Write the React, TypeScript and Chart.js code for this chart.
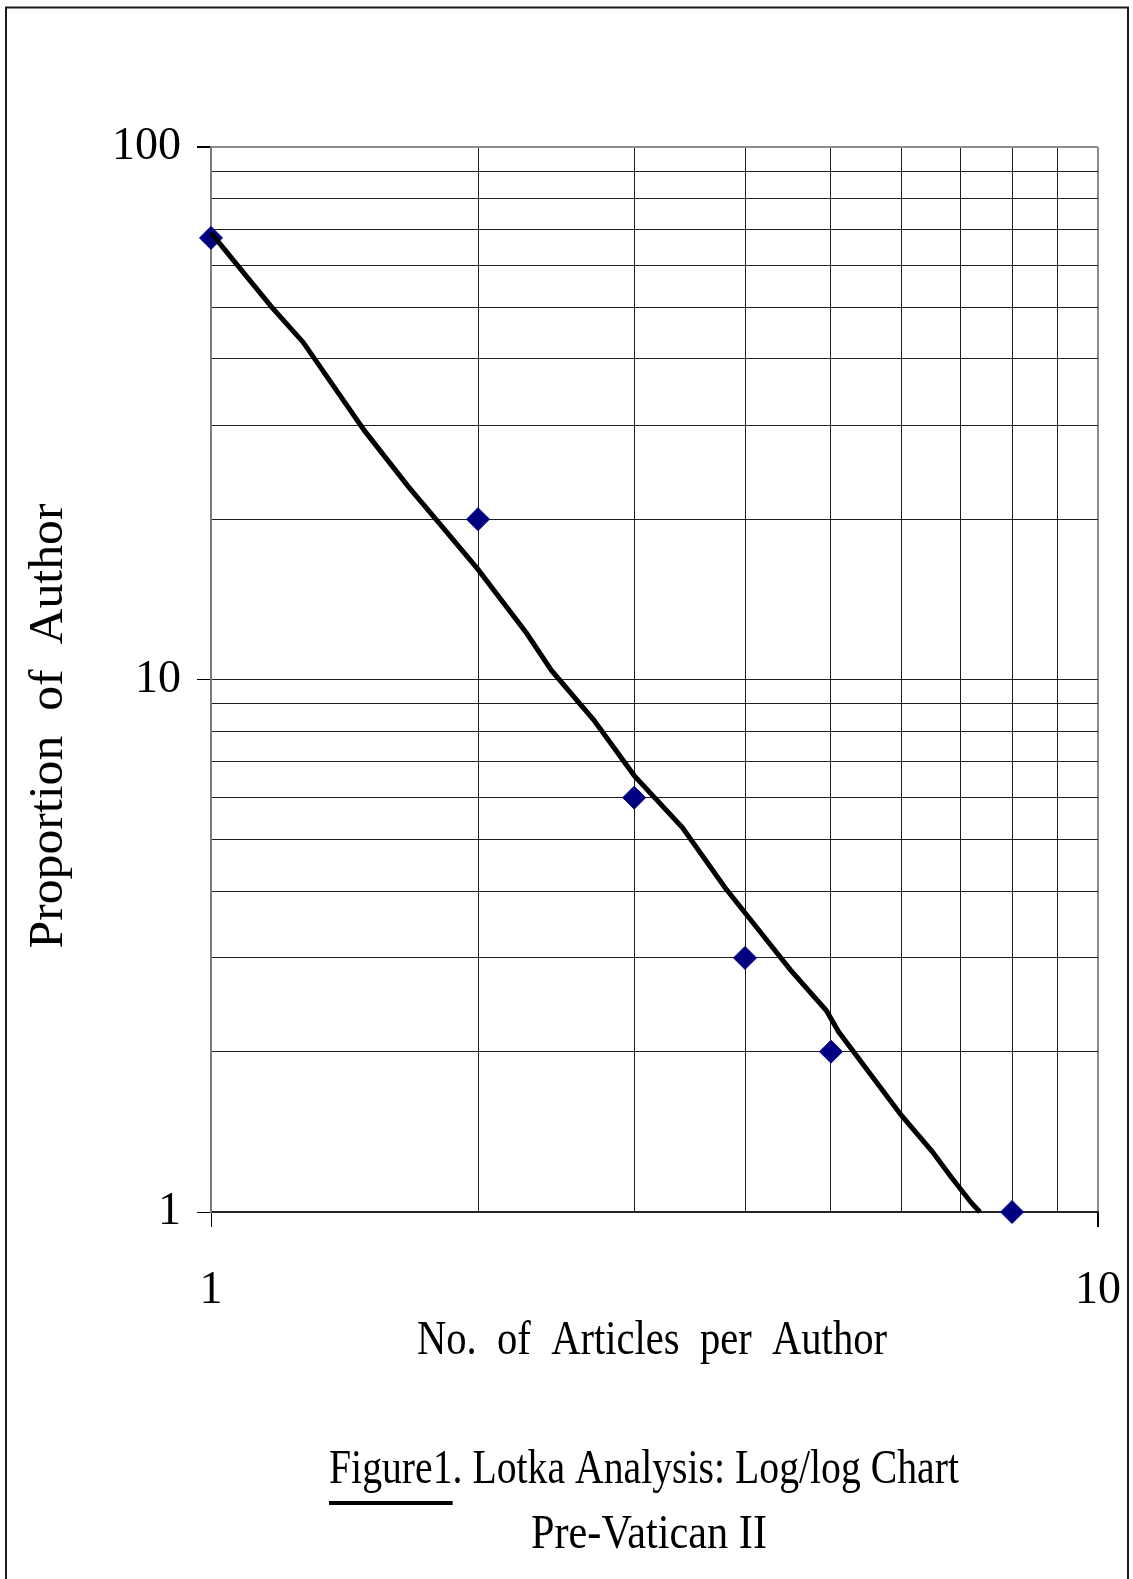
import React, { useEffect, useRef } from "react";
import { Chart, registerables } from "chart.js";

Chart.register(...registerables);

// ---- data ----
const articlesPerAuthor = [1, 2, 3, 4, 5, 8];
const proportionOfAuthors = [67.5, 20, 6, 3, 2, 1];

const fitArticles = [1, 1.17, 1.27, 1.49, 1.67, 1.83, 2, 2.27, 2.42, 2.7, 3, 3.4, 3.8, 4.13, 4.5, 4.94, 5.1, 5.66, 6, 6.5, 6.84, 7.2, 7.36];
const fitProportion = [69, 50.1, 43.0, 29.3, 23.0, 19.2, 16.1, 12.2, 10.4, 8.4, 6.6, 5.27, 4.06, 3.41, 2.85, 2.39, 2.18, 1.73, 1.52, 1.3, 1.16, 1.04, 1.0];

const xGridValues = [1, 2, 3, 4, 5, 6, 7, 8, 9, 10];
const yGridValues = [1, 2, 3, 4, 5, 6, 7, 8, 9, 10, 20, 30, 40, 50, 60, 70, 80, 90, 100];
const xTickLabels = [1, 10];
const yTickLabels = [1, 10, 100];

const titleLine1Underlined = "Figure1";
const titleLine1Rest = ". Lotka Analysis: Log/log Chart";
const titleLine2 = "Pre-Vatican II";
const xAxisTitle = "No.  of  Articles  per  Author";
const yAxisTitle = "Proportion  of  Author";

const SERIF = '"Liberation Serif", "Times New Roman", serif';

const near = (v: number, list: number[]) => list.some((t) => Math.abs(v - t) < 1e-6);

function drawFitted(
  ctx: CanvasRenderingContext2D,
  text: string,
  cx: number,
  baseline: number,
  width: number,
  rotate = false
) {
  ctx.save();
  ctx.font = `48px ${SERIF}`;
  const w = ctx.measureText(text).width;
  const sx = width / w;
  ctx.translate(cx, baseline);
  if (rotate) ctx.rotate(-Math.PI / 2);
  ctx.scale(sx, 1);
  ctx.textAlign = "center";
  ctx.textBaseline = "alphabetic";
  ctx.fillStyle = "#000";
  ctx.fillText(text, 0, 0);
  ctx.restore();
}

const figureTextPlugin = {
  id: "figureText",
  afterDraw(chart: any) {
    const ctx: CanvasRenderingContext2D = chart.ctx;
    ctx.save();
    // outer frame
    ctx.strokeStyle = "#1a1a1a";
    ctx.lineWidth = 2;
    ctx.beginPath();
    ctx.moveTo(6, 1700);
    ctx.lineTo(6, 7.5);
    ctx.lineTo(1128, 7.5);
    ctx.lineTo(1128, 1700);
    ctx.stroke();
    ctx.restore();

    // axis titles
    drawFitted(ctx, xAxisTitle, 652, 1354, 470);
    drawFitted(ctx, yAxisTitle, 62, 726, 445, true);

    // caption line 1 with underlined "Figure1"
    ctx.save();
    ctx.font = `48px ${SERIF}`;
    const full = titleLine1Underlined + titleLine1Rest;
    const fullW = ctx.measureText(full).width;
    const target = 630;
    const sx = target / fullW;
    const left = 644 - target / 2;
    ctx.translate(left, 1483);
    ctx.scale(sx, 1);
    ctx.textAlign = "left";
    ctx.textBaseline = "alphabetic";
    ctx.fillStyle = "#000";
    ctx.fillText(full, 0, 0);
    const ulW = ctx.measureText(titleLine1Underlined).width;
    ctx.fillRect(0, 18, ulW, 4);
    ctx.restore();

    drawFitted(ctx, titleLine2, 649, 1548, 236);
  },
};

export default function App() {
  const canvasRef = useRef<HTMLCanvasElement | null>(null);

  useEffect(() => {
    document.body.style.margin = "0";
    const canvas = canvasRef.current;
    if (!canvas) return;

    const markerData = articlesPerAuthor.map((x, i) => ({ x, y: proportionOfAuthors[i] }));
    const fitData = fitArticles.map((x, i) => ({ x, y: fitProportion[i] }));

    const chart = new Chart(canvas, {
      type: "scatter",
      data: {
        datasets: [
          {
            label: "Lotka fit",
            data: fitData,
            showLine: true,
            borderColor: "#000000",
            borderWidth: 5,
            pointRadius: 0,
            tension: 0,
            clip: false,
            order: 0,
          },
          {
            label: "Observed",
            data: markerData,
            pointStyle: "rectRot",
            pointRadius: 11.5,
            backgroundColor: "#000080",
            borderColor: "#000080",
            borderWidth: 1,
            clip: false,
            order: 1,
          },
        ],
      },
      options: {
        responsive: false,
        animation: false,
        events: [],
        layout: { padding: { left: 0, top: 147, right: 35, bottom: 0 } },
        plugins: {
          legend: { display: false },
          tooltip: { enabled: false },
          title: { display: false },
        },
        scales: {
          x: {
            type: "logarithmic",
            min: 1,
            max: 10,
            afterBuildTicks: (s: any) => {
              s.ticks = xGridValues.map((v) => ({ value: v, major: near(v, xTickLabels) }));
            },
            afterFit: (s: any) => {
              s.height = 1579 - 1212;
            },
            border: { display: true, color: "#222222", width: 2 },
            grid: {
              color: (c: any) => (c.tick && near(c.tick.value, [10]) ? "#8c8c8c" : "#1e1e1e"),
              lineWidth: (c: any) => (c.tick && near(c.tick.value, [10]) ? 2 : 1),
              tickColor: (c: any) => (c.tick && near(c.tick.value, xTickLabels) ? "#000000" : "rgba(0,0,0,0)"),
              tickLength: 15,
              drawTicks: true,
            },
            ticks: {
              autoSkip: false,
              maxRotation: 0,
              minRotation: 0,
              padding: 12,
              color: "#000",
              font: { family: SERIF, size: 46, lineHeight: 2.245 },
              callback: (v: any) => (near(Number(v), xTickLabels) ? String(Number(v)) : ""),
            },
          },
          y: {
            type: "logarithmic",
            min: 1,
            max: 100,
            afterBuildTicks: (s: any) => {
              s.ticks = yGridValues.map((v) => ({ value: v, major: near(v, yTickLabels) }));
            },
            afterFit: (s: any) => {
              s.width = 211;
            },
            border: { display: true, color: "#7a7a7a", width: 2 },
            grid: {
              color: (c: any) => (c.tick && near(c.tick.value, [100]) ? "#8c8c8c" : "#1e1e1e"),
              lineWidth: (c: any) => (c.tick && near(c.tick.value, [100]) ? 2 : 1),
              tickColor: (c: any) => (c.tick && near(c.tick.value, yTickLabels) ? "#000000" : "rgba(0,0,0,0)"),
              tickLength: 14,
              drawTicks: true,
            },
            ticks: {
              autoSkip: false,
              padding: 16,
              color: "#000",
              font: { family: SERIF, size: 46 },
              callback: (v: any) => (near(Number(v), yTickLabels) ? String(Number(v)) : ""),
            },
          },
        },
      },
      plugins: [figureTextPlugin],
    });

    return () => chart.destroy();
  }, []);

  return (
    <canvas
      ref={canvasRef}
      width={1133}
      height={1579}
      style={{ display: "block", width: "1133px", height: "1579px" }}
    />
  );
}
